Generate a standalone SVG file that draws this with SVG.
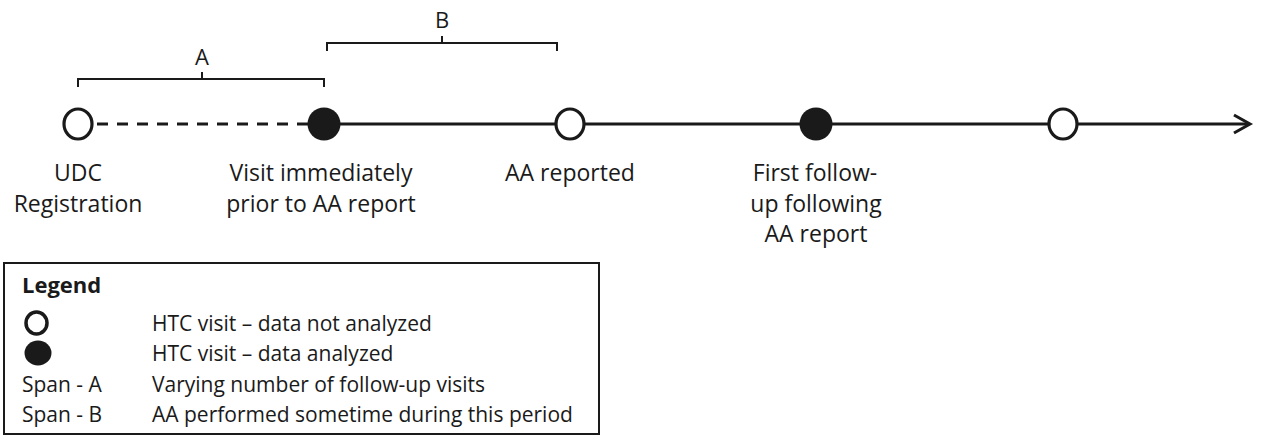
<svg xmlns="http://www.w3.org/2000/svg" width="1261" height="437" viewBox="0 0 1261 437">
<style>
text{font-family:"Open Sans","Liberation Sans",sans-serif;fill:#1a1a1a}
.lbl{font-size:23px;text-anchor:middle}
.lg{font-size:21px}
.open{fill:#fff;stroke:#1a1a1a;stroke-width:3.2}
.filled{fill:#1a1a1a;stroke:none}
.line{stroke:#1a1a1a;stroke-width:3;fill:none}
.br{stroke:#1a1a1a;stroke-width:2;fill:none}
</style>
<rect width="1261" height="437" fill="#fff"/>
<g id="connectors">
<line class="line" x1="93" y1="124" x2="308" y2="124" stroke-dasharray="11 9" stroke-dashoffset="-4"/>
<line class="line" x1="340" y1="124" x2="1249" y2="124"/>
<polyline class="line" points="1234,115 1250,124 1234,133"/>
</g>
<g id="span-A">
<path class="br" d="M78,87 V79 H324 V87 M202,79 V72"/>
<text class="lbl" x="202" y="65" style="font-size:22px">A</text>
</g>
<g id="span-B">
<path class="br" d="M327,51 V43 H557 V51 M442,43 V36"/>
<text class="lbl" x="442" y="28" style="font-size:22px">B</text>
</g>
<g id="node-udc">
<ellipse class="open" cx="78" cy="124" rx="14" ry="15"/>
<text class="lbl" x="78" y="181">UDC</text>
<text class="lbl" x="78" y="212">Registration</text>
</g>
<g id="node-visit-prior">
<ellipse class="filled" cx="324" cy="124" rx="16.5" ry="16.5"/>
<text class="lbl" x="321" y="181">Visit immediately</text>
<text class="lbl" x="321" y="212">prior to AA report</text>
</g>
<g id="node-aa-reported">
<ellipse class="open" cx="570" cy="124" rx="14" ry="15"/>
<text class="lbl" x="570" y="181">AA reported</text>
</g>
<g id="node-first-followup">
<ellipse class="filled" cx="816" cy="124" rx="16.5" ry="16.5"/>
<text class="lbl" x="815" y="181">First follow-</text>
<text class="lbl" x="816" y="212">up following</text>
<text class="lbl" x="816" y="242">AA report</text>
</g>
<g id="node-later">
<ellipse class="open" cx="1063" cy="124" rx="14" ry="15"/>
</g>
<g id="legend">
<rect x="4" y="263" width="595" height="171" fill="#fff" stroke="#1a1a1a" stroke-width="2"/>
<text class="lg" x="22" y="293" style="font-weight:bold;font-size:22px">Legend</text>
<ellipse class="open" cx="36.5" cy="323" rx="10.5" ry="11" style="stroke-width:3.5"/>
<text class="lg" x="152" y="331">HTC visit – data not analyzed</text>
<ellipse class="filled" cx="38" cy="353" rx="13.5" ry="12.5"/>
<text class="lg" x="152" y="361">HTC visit – data analyzed</text>
<text class="lg" x="22" y="392">Span - A</text>
<text class="lg" x="152" y="392">Varying number of follow-up visits</text>
<text class="lg" x="22" y="422">Span - B</text>
<text class="lg" x="152" y="422">AA performed sometime during this period</text>
</g>
</svg>
